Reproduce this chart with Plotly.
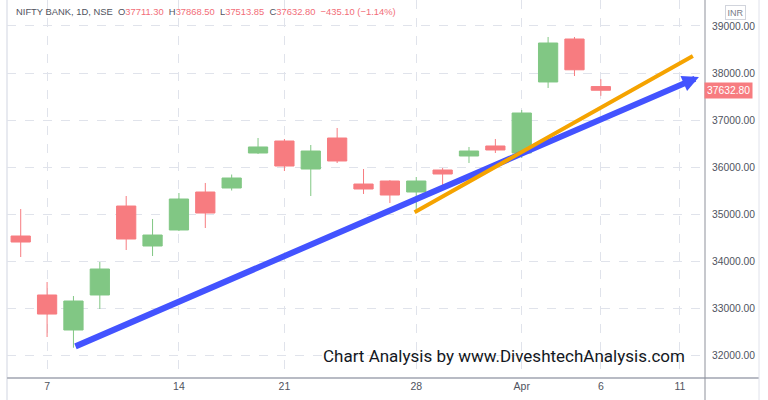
import plotly.graph_objects as go

# ---- data (NIFTY BANK, daily, NSE) ----
sessions = ["2022-03-04", "2022-03-07", "2022-03-08", "2022-03-09", "2022-03-10", "2022-03-11",
            "2022-03-14", "2022-03-15", "2022-03-16", "2022-03-17", "2022-03-21", "2022-03-22",
            "2022-03-23", "2022-03-24", "2022-03-25", "2022-03-28", "2022-03-29", "2022-03-30",
            "2022-03-31", "2022-04-01", "2022-04-04", "2022-04-05", "2022-04-06",
            "2022-04-07", "2022-04-08", "2022-04-11", "2022-04-12"]
opens = [34532, 33277, 32532, 33277, 35170, 34319, 34660, 35468, 35553, 36298, 36553, 35957,
         36617, 35638, 35702, 35468, 35936, 36234, 36447, 36298, 37809, 38723, 37711.30]
highs = [35106, 33553, 33255, 33979, 35383, 34894, 35447, 35660, 35840, 36617, 36596, 36468,
         36830, 35957, 35720, 35787, 35979, 36426, 36596, 37213, 38766, 38766, 37868.50]
lows = [34085, 32383, 32155, 32979, 34234, 34106, 34638, 34702, 35500, 36277, 35915, 35383,
        36085, 35426, 35234, 35043, 35617, 36085, 36298, 36191, 37681, 37936, 37513.85]
closes = [34404, 32871.25, 33149, 33830, 34468, 34553, 35319, 35021, 35766, 36426, 36021, 36340,
          36128, 35532, 35404, 35702, 35851, 36340, 36362, 37149, 38638, 38067.90, 37632.80]

tick_dates = ["2022-03-07", "2022-03-14", "2022-03-21", "2022-03-28", "2022-04-01", "2022-04-06", "2022-04-11"]
tick_labels = ["7", "14", "21", "28", "Apr", "6", "11"]
price_ticks = [32000, 33000, 34000, 35000, 36000, 37000, 38000, 39000]

# trend lines (bar index, price)
blue_x = [2.02, 25.72]
blue_y = [32170, 37915]
orange_x = [14.88, 25.49]
orange_y = [35021, 38362]

header = ("NIFTY BANK, 1D, NSE", 37711.30, 37868.50, 37513.85, 37632.80, -435.10, -1.14)
watermark = "Chart Analysis by www.DiveshtechAnalysis.com"

GREEN = "#81c784"
RED = "#f77c80"
GRID = "#e0e3eb"
TXT = "#50535e"
FONT = "Liberation Sans, Arial, sans-serif"

idx = list(range(len(closes)))
tick_idx = [sessions.index(d) for d in tick_dates]

fig = go.Figure()
fig.add_trace(go.Candlestick(
    x=idx, open=opens, high=highs, low=lows, close=closes,
    increasing=dict(line=dict(color=GREEN, width=1), fillcolor=GREEN),
    decreasing=dict(line=dict(color=RED, width=1), fillcolor=RED),
    whiskerwidth=0, hoverinfo="skip", showlegend=False,
))

fig.update_layout(
    width=768, height=400,
    margin=dict(l=7, r=63, t=0, b=22, autoexpand=False),
    paper_bgcolor="white", plot_bgcolor="white",
    showlegend=False, boxgap=0.27, boxgroupgap=0,
    font=dict(family=FONT, color=TXT, size=10.5),
)
fig.update_xaxes(
    type="linear", range=[-0.52, 25.95], rangeslider_visible=False, automargin=False,
    tickvals=tick_idx, ticktext=tick_labels,
    showgrid=True, gridcolor=GRID, griddash="dash", gridwidth=1,
    zeroline=False, showline=False, ticks="", tickfont=dict(size=10.5, color=TXT),
)
fig.update_yaxes(
    side="right", range=[31511, 39553], automargin=False,
    tickvals=price_ticks, tickformat=".2f",
    showgrid=True, gridcolor=GRID, griddash="dash", gridwidth=1,
    zeroline=False, showline=False, ticks="", ticklabelstandoff=6,
    tickfont=dict(size=10.3, color=TXT),
)

# borders
fig.add_shape(type="line", xref="paper", yref="paper", x0=0, x1=0, y0=-0.06, y1=1,
              line=dict(color=GRID, width=1.5))
fig.add_shape(type="line", xref="paper", yref="paper", x0=0, x1=1.0774, y0=0, y1=0,
              line=dict(color="#b8bbc4", width=2))
fig.add_shape(type="line", xref="paper", yref="paper", x0=1, x1=1, y0=-0.06, y1=1,
              line=dict(color="#8e919b", width=1))
fig.add_shape(type="line", xref="paper", yref="paper", x0=1.0774, x1=1.0774, y0=-0.06, y1=1,
              line=dict(color=GRID, width=1))

# trend lines
fig.add_annotation(x=blue_x[1], y=blue_y[1], ax=blue_x[0], ay=blue_y[0],
                   xref="x", yref="y", axref="x", ayref="y", text="",
                   showarrow=True, arrowhead=2, arrowsize=0.55, arrowwidth=6,
                   arrowcolor="#4353ff", standoff=0)
fig.add_annotation(x=orange_x[1], y=orange_y[1], ax=orange_x[0], ay=orange_y[0],
                   xref="x", yref="y", axref="x", ayref="y", text="",
                   showarrow=True, arrowhead=0, arrowwidth=4,
                   arrowcolor="#f5a300", standoff=0)

# header
name, o, h, l, c, chg, pct = header
red_txt = "#f26d78"
def v(x):
    return f"<span style='color:{red_txt}'>{x:.2f}</span>"
htxt = (f"<span style='color:#50535e'>{name}</span>&nbsp;&nbsp;"
        f"O{v(o)}&nbsp;&nbsp;H{v(h)}&nbsp;&nbsp;L{v(l)}&nbsp;&nbsp;C{v(c)}&nbsp;&nbsp;"
        f"<span style='color:{red_txt}'>−{abs(chg):.2f} (−{abs(pct):.2f}%)</span>")
fig.add_annotation(xref="paper", yref="paper", x=0, y=1, xshift=7, yshift=-11,
                   xanchor="left", yanchor="middle", text=htxt, showarrow=False,
                   font=dict(size=9.4, color="#50535e"))

# last price label
fig.add_annotation(xref="paper", yref="y", x=1, y=closes[-1], xanchor="left", yanchor="middle",
                   xshift=-1, text=f"{closes[-1]:.2f}", showarrow=False,
                   bgcolor=RED, borderpad=2, font=dict(size=10.3, color="white"))
# currency badge
fig.add_annotation(xref="paper", yref="paper", x=1, y=1, xshift=30, yshift=-12,
                   xanchor="center", yanchor="middle", text="INR", showarrow=False,
                   bordercolor="#d1d4dc", borderwidth=1, borderpad=1.5,
                   font=dict(size=9, color="#787b86"))

# watermark
fig.add_annotation(xref="paper", yref="paper", x=0.974, y=0.058, xanchor="right", yanchor="middle",
                   text=watermark, showarrow=False,
                   font=dict(size=17, color="#131722", family="Roboto, Arial, sans-serif"))

fig.write_html("out.html", config={"displayModeBar": False},
               post_script="document.body.style.margin='0';")
